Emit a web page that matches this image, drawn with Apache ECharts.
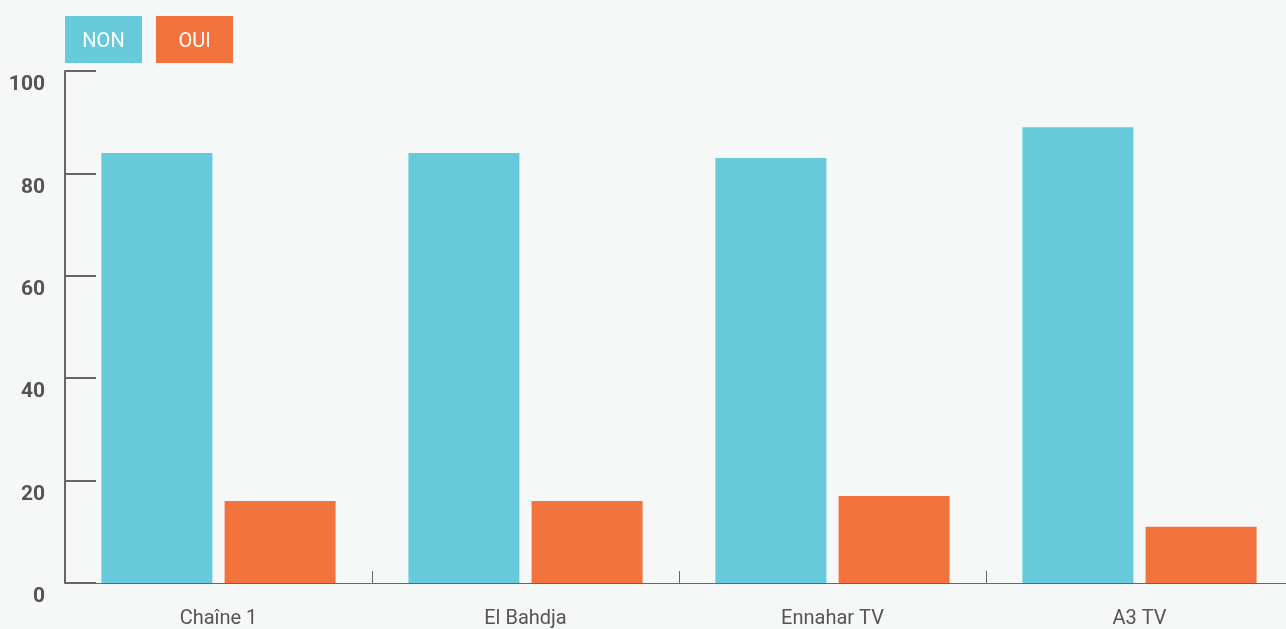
<!DOCTYPE html>
<html>
<head>
<meta charset="utf-8">
<script src="https://cdn.jsdelivr.net/npm/echarts@6/dist/echarts.min.js"></script>
<style>
html,body{margin:0;padding:0;background:#f6f7f7;overflow:hidden;}
#chart{width:1300px;height:629px;}
</style>
</head>
<body>
<div id="chart"></div>
<script>
const categories = ['Chaîne 1', 'El Bahdja', 'Ennahar TV', 'A3 TV'];
const nonValues = [84, 84, 83, 89];
const ouiValues = [16, 16, 17, 11];
const yTicks = [0, 20, 40, 60, 80, 100];

const FONT = 'Roboto, "DejaVu Sans", sans-serif';
const boxStyle = {color: '#ffffff', fontFamily: FONT, fontSize: 20, width: 77, height: 43, lineHeight: 43, padding: [4, 0, 0, 0], align: 'center'};
const chart = echarts.init(document.getElementById('chart'));
chart.setOption({
  backgroundColor: '#f6f7f7',
  animation: false,
  legend: {
    left: 60,
    top: 16,
    padding: 0,
    itemWidth: 0,
    itemHeight: 0,
    itemGap: 9,
    icon: 'rect',
    selectedMode: false,
    data: ['NON', 'OUI'],
    formatter: function (name) { return '{' + name.toLowerCase() + '|' + name + '}'; },
    textStyle: {
      padding: 0,
      rich: {
        non: Object.assign({backgroundColor: '#67cadb'}, boxStyle),
        oui: Object.assign({backgroundColor: '#f3733f'}, boxStyle)
      }
    }
  },
  grid: {left: 65, top: 71, bottom: 46, right: 7, containLabel: false},
  xAxis: {
    type: 'category',
    data: categories,
    boundaryGap: true,
    axisLine: {lineStyle: {color: '#666', width: 1}},
    axisTick: {show: true, inside: true, length: 12, lineStyle: {color: '#666', width: 1}},
    axisLabel: {color: '#555', fontFamily: FONT, fontSize: 20, margin: 26}
  },
  yAxis: {
    type: 'value',
    min: yTicks[0],
    max: yTicks[yTicks.length - 1],
    interval: 20,
    splitLine: {show: false},
    axisLine: {show: true, lineStyle: {color: '#666', width: 2}},
    axisTick: {show: true, inside: true, length: 31, lineStyle: {color: '#666', width: 2}},
    axisLabel: {color: '#555', fontFamily: FONT, fontSize: 21, fontWeight: 'bold', margin: 20, verticalAlign: 'top', lineHeight: 28}
  },
  series: [
    {name: 'NON', type: 'bar', data: nonValues, barWidth: 111, barGap: '11%', itemStyle: {color: '#67cadb'}},
    {name: 'OUI', type: 'bar', data: ouiValues, barWidth: 111, barGap: '11%', itemStyle: {color: '#f3733f'}}
  ]
});
</script>
</body>
</html>
